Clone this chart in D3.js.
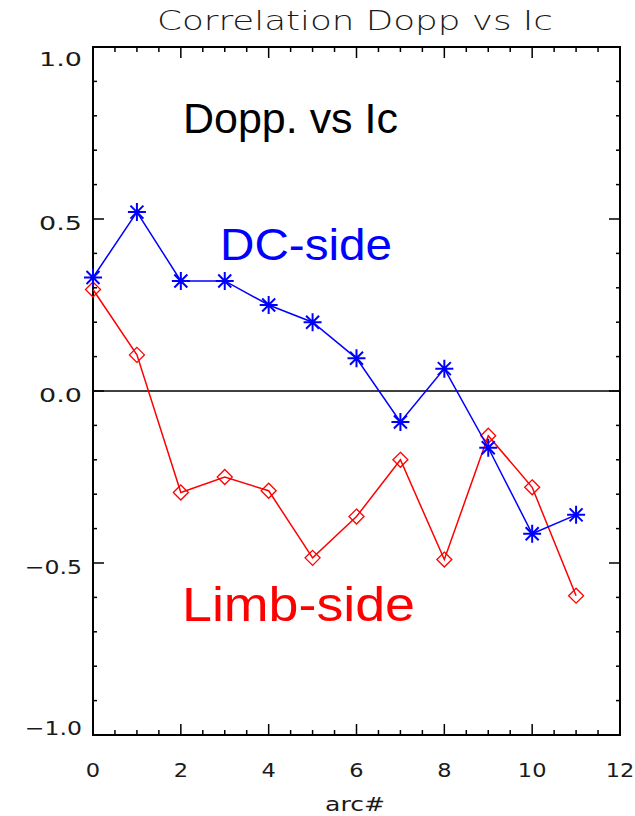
<!DOCTYPE html>
<html>
<head>
  <meta charset="utf-8">
  <title>Correlation Dopp vs Ic</title>
  <script src="https://cdn.jsdelivr.net/npm/d3@7"></script>
  <style>
    body { margin: 0; background: #fff; }
    svg { display: block; }
    .idl { font-family: "DejaVu Sans", sans-serif; font-size: 20px; fill: #1a1a1a; }
    .big { font-family: "Liberation Sans", Arial, sans-serif; }
  </style>
</head>
<body>
<svg id="chart" width="635" height="816"></svg>

<script>
  // arc numbers and correlation values
  var arcs = [0, 1, 2, 3, 4, 5, 6, 7, 8, 9, 10, 11];
  var dcSide = [0.33, 0.52, 0.32, 0.32, 0.25, 0.20, 0.095, -0.09, 0.065, -0.165, -0.415, -0.36];
  var limbSide = [0.295, 0.105, -0.295, -0.25, -0.29, -0.485, -0.365, -0.20, -0.49, -0.13, -0.28, -0.595];
  var xTicks = [0, 2, 4, 6, 8, 10, 12];
  var yTicks = [-1.0, -0.5, 0.0, 0.5, 1.0];

  var pl = 93, pr = 620, pt = 47, pb = 735;
  var charW = 14.3; // the IDL vector font is wide

  var svg = d3.select('#chart');

  var x = d3.scaleLinear().domain([0, 12]).range([pl, pr]);
  var y = d3.scaleLinear().domain([-1, 1]).range([pb, pt]);

  function fmtY(d) { return d3.format('.1f')(d).replace('-', '\u2212'); }

  // frame
  svg.append('rect')
    .attr('x', pl).attr('y', pt)
    .attr('width', pr - pl).attr('height', pb - pt)
    .attr('fill', 'none').attr('stroke', '#000').attr('stroke-width', 2);

  // inward ticks on all four sides
  var xMinor = d3.range(0, 12.01, 0.5);
  var yMinor = d3.range(-1, 1.001, 0.1);

  var tickG = svg.append('g').attr('stroke', '#000').attr('stroke-width', 1.5);
  xMinor.forEach(function (t) {
    var len = (Math.abs(t % 2) < 1e-6) ? 11 : 5;
    tickG.append('line').attr('x1', x(t)).attr('x2', x(t)).attr('y1', pb).attr('y2', pb - len);
    tickG.append('line').attr('x1', x(t)).attr('x2', x(t)).attr('y1', pt).attr('y2', pt + len);
  });
  yMinor.forEach(function (t) {
    var major = Math.abs(Math.round(t * 10) % 5) === 0;
    var len = major ? 11 : 4;
    tickG.append('line').attr('x1', pl).attr('x2', pl + len).attr('y1', y(t)).attr('y2', y(t));
    tickG.append('line').attr('x1', pr).attr('x2', pr - len).attr('y1', y(t)).attr('y2', y(t));
  });

  // tick labels
  svg.selectAll('.xlab')
    .data(xTicks)
    .enter()
    .append('text')
    .attr('class', 'idl')
    .attr('x', function (d) { return x(d); })
    .attr('y', 777)
    .attr('text-anchor', 'middle')
    .attr('textLength', function (d) { return String(d).length * charW; })
    .attr('lengthAdjust', 'spacingAndGlyphs')
    .text(function (d) { return d; });

  svg.selectAll('.ylab')
    .data(yTicks)
    .enter()
    .append('text')
    .attr('class', 'idl')
    .attr('x', 82)
    .attr('y', function (d) { return Math.min(Math.max(y(d) + 11, 66), 735); })
    .attr('text-anchor', 'end')
    .attr('textLength', function (d) { return fmtY(d).length * charW; })
    .attr('lengthAdjust', 'spacingAndGlyphs')
    .text(fmtY);

  // titles
  svg.append('text').attr('class', 'idl')
    .attr('x', 157).attr('y', 30)
    .attr('textLength', 396).attr('lengthAdjust', 'spacingAndGlyphs')
    .style('font-size', '26px').style('font-weight', '300')
    .text('Correlation Dopp vs Ic');

  svg.append('text').attr('class', 'idl')
    .attr('x', 325).attr('y', 811)
    .attr('textLength', 60).attr('lengthAdjust', 'spacingAndGlyphs')
    .text('arc#');

  // zero line
  svg.append('line')
    .attr('x1', pl).attr('x2', pr)
    .attr('y1', y(0)).attr('y2', y(0))
    .attr('stroke', '#000').attr('stroke-width', 1.5);

  var line = d3.line()
    .x(function (d) { return x(d[0]); })
    .y(function (d) { return y(d[1]); });

  var dcPts = d3.zip(arcs, dcSide);
  var limbPts = d3.zip(arcs, limbSide);

  svg.append('path').datum(limbPts)
    .attr('d', line).attr('fill', 'none')
    .attr('stroke', '#ff0000').attr('stroke-width', 1.5);

  svg.selectAll('.diamond')
    .data(limbPts)
    .enter()
    .append('path')
    .attr('d', function (d) {
      var cx = x(d[0]), cy = y(d[1]), r = 7.5;
      return 'M' + cx + ',' + (cy - r) + 'L' + (cx + r) + ',' + cy + 'L' + cx + ',' + (cy + r) + 'L' + (cx - r) + ',' + cy + 'Z';
    })
    .attr('fill', 'none').attr('stroke', '#ff0000').attr('stroke-width', 1.3);

  svg.append('path').datum(dcPts)
    .attr('d', line).attr('fill', 'none')
    .attr('stroke', '#0000ff').attr('stroke-width', 1.5);

  svg.selectAll('.star')
    .data(dcPts)
    .enter()
    .append('path')
    .attr('d', function (d) {
      var cx = x(d[0]), cy = y(d[1]), r = 9, s = 6.5;
      return 'M' + (cx - r) + ',' + cy + 'L' + (cx + r) + ',' + cy +
        'M' + cx + ',' + (cy - r) + 'L' + cx + ',' + (cy + r) +
        'M' + (cx - s) + ',' + (cy - s) + 'L' + (cx + s) + ',' + (cy + s) +
        'M' + (cx - s) + ',' + (cy + s) + 'L' + (cx + s) + ',' + (cy - s);
    })
    .attr('stroke', '#0000ff').attr('stroke-width', 2);

  // in-plot labels
  svg.append('text').attr('class', 'big')
    .attr('x', 183).attr('y', 133)
    .attr('textLength', 215).attr('lengthAdjust', 'spacingAndGlyphs')
    .style('font-size', '42px').attr('fill', '#000')
    .text('Dopp. vs Ic');

  svg.append('text').attr('class', 'big')
    .attr('x', 220).attr('y', 260)
    .attr('textLength', 172).attr('lengthAdjust', 'spacingAndGlyphs')
    .style('font-size', '45px').attr('fill', '#0000ff')
    .text('DC-side');

  svg.append('text').attr('class', 'big')
    .attr('x', 182).attr('y', 621)
    .attr('textLength', 233).attr('lengthAdjust', 'spacingAndGlyphs')
    .style('font-size', '48px').attr('fill', '#ff0000')
    .text('Limb-side');
</script>
</body>
</html>
